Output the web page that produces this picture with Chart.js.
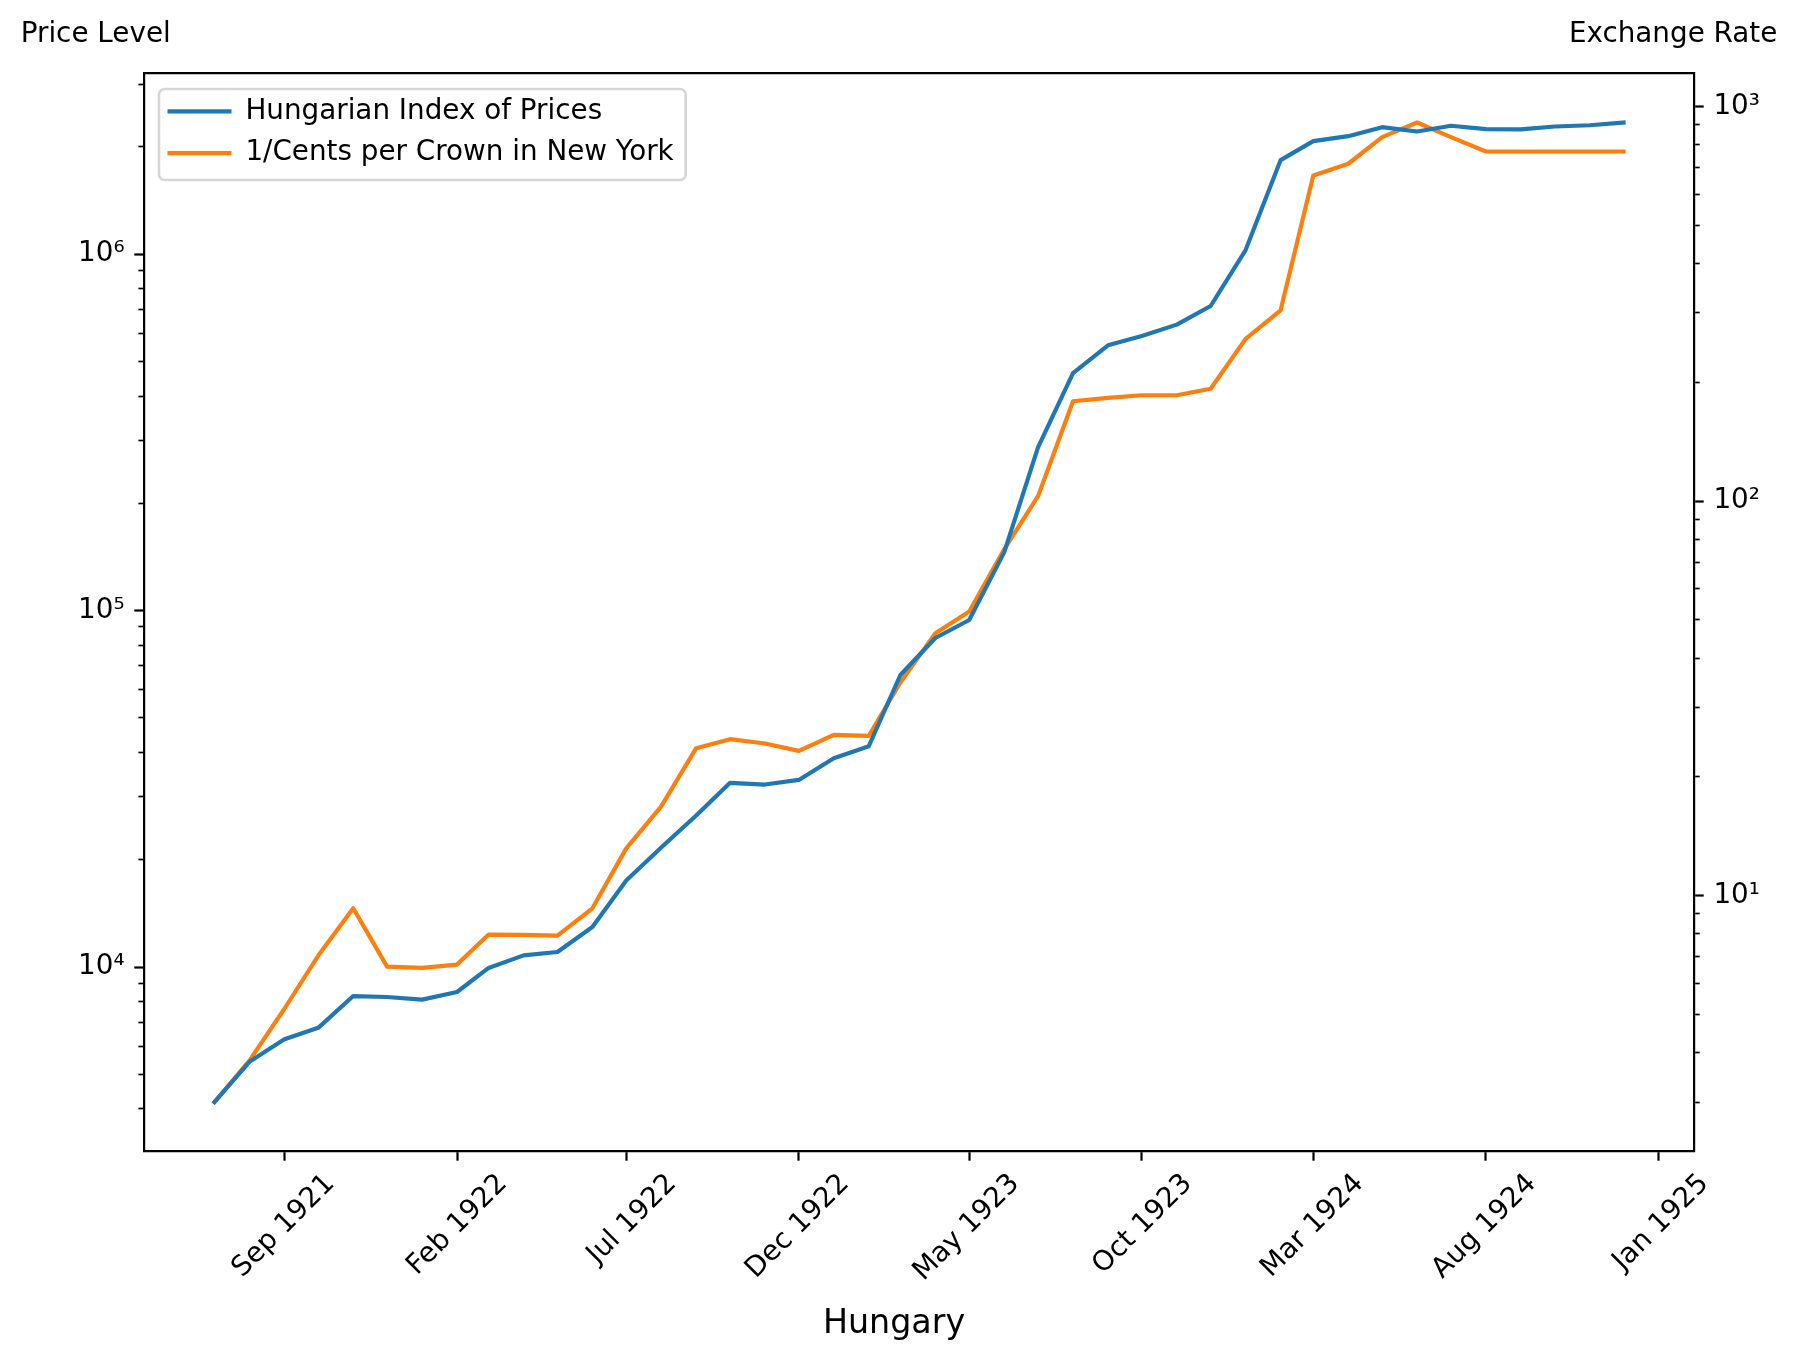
<!DOCTYPE html>
<html>
<head>
<meta charset="utf-8">
<script src="https://cdn.jsdelivr.net/npm/chart.js@4.4.1/dist/chart.umd.min.js"></script>
<style>
html, body { margin: 0; padding: 0; background: #ffffff; }
#wrap { width: 1798px; height: 1361px; position: relative; }
</style>
</head>
<body>
<div id="wrap"><canvas id="chart"></canvas></div>
<script>
// ---------------- data ----------------
const months = [
  '1921-07','1921-08','1921-09','1921-10','1921-11','1921-12',
  '1922-01','1922-02','1922-03','1922-04','1922-05','1922-06',
  '1922-07','1922-08','1922-09','1922-10','1922-11','1922-12',
  '1923-01','1923-02','1923-03','1923-04','1923-05','1923-06',
  '1923-07','1923-08','1923-09','1923-10','1923-11','1923-12',
  '1924-01','1924-02','1924-03','1924-04','1924-05','1924-06',
  '1924-07','1924-08','1924-09','1924-10','1924-11','1924-12'
];
const priceIndex = [
  4180, 5420, 6270, 6750, 8290, 8240,
  8100, 8510, 9940, 10780, 11020, 12950,
  17490, 21640, 26610, 32870, 32510, 33500,
  38540, 41650, 65980, 83800, 94120, 145700,
  287000, 463700, 555400, 589800, 634700, 715800,
  1027500, 1837000, 2077000, 2145000, 2273000, 2211000,
  2294000, 2244000, 2240000, 2283000, 2302000, 2343000
];
const exchangeRate = [
  3.00, 3.82, 5.17, 7.05, 9.29, 6.61,
  6.56, 6.69, 7.97, 7.96, 7.92, 9.29,
  13.18, 16.84, 23.65, 24.93, 24.31, 23.28,
  25.56, 25.41, 34.70, 46.26, 52.5, 75.45,
  102.9, 179.1, 182.7, 185.5, 185.5, 192.6,
  257.7, 304.5, 668.8, 716, 836.7, 911,
  836.7, 769, 769, 769, 769, 769
];
const seriesLabels = ['Hungarian Index of Prices', '1/Cents per Crown in New York'];
const xTickMonths = ['1921-09','1922-02','1922-07','1922-12','1923-05','1923-10','1924-03','1924-08','1925-01'];
const xTickLabels = ['Sep 1921','Feb 1922','Jul 1922','Dec 1922','May 1923','Oct 1923','Mar 1924','Aug 1924','Jan 1925'];
const leftMajorTicks = [1e4, 1e5, 1e6];
const leftMajorLabels = ['10\u2074', '10\u2075', '10\u2076'];
const rightMajorTicks = [1e1, 1e2, 1e3];
const rightMajorLabels = ['10\u00B9', '10\u00B2', '10\u00B3'];
const leftAxisLabel = 'Price Level';
const rightAxisLabel = 'Exchange Rate';
const xAxisLabel = 'Hungary';

// ---------------- helpers ----------------
const toDay = s => { const [y, m] = s.split('-').map(Number); return Date.UTC(y, m - 1, 1) / 864e5; };
const FONT = 'DejaVu Sans';
const FS = 27.8;          // 10 pt at 200 dpi
const MAJOR_LEN = 9.7, MINOR_LEN = 5.6, MAJOR_W = 2.2, MINOR_W = 1.67;
const LEG_PAD = 14, LEG_HANDLE = 64;

function logLimits(values) {
  const lo = Math.log10(Math.min(...values)), hi = Math.log10(Math.max(...values));
  const m = (hi - lo) * 0.05;
  return [Math.pow(10, lo - m), Math.pow(10, hi + m)];
}
function logTicks(min, max) {
  const out = [];
  for (let e = Math.floor(Math.log10(min)); e <= Math.ceil(Math.log10(max)); e++) {
    for (let k = 1; k <= 9; k++) {
      const v = k * Math.pow(10, e);
      if (v >= min && v <= max) out.push({ value: v, major: k === 1 });
    }
  }
  return out;
}
const isMajorVal = v => Math.abs(Math.log10(v) - Math.round(Math.log10(v))) < 1e-9;

const days = months.map(toDay);
const span = days[days.length - 1] - days[0];
const xMin = days[0] - 0.05 * span, xMax = days[days.length - 1] + 0.05 * span;
const [yLMin, yLMax] = logLimits(priceIndex);
const [yRMin, yRMax] = logLimits(exchangeRate);

function yAxis(position, min, max, majors, labels, width) {
  const left = position === 'left';
  return {
    type: 'logarithmic', position, min, max,
    afterBuildTicks: s => { s.ticks = logTicks(s.min, s.max); },
    afterFit: s => { s.width = width; },
    ticks: {
      autoSkip: false, padding: MAJOR_LEN, color: '#000',
      font: { family: FONT, size: FS },
      callback: (v) => { const i = majors.indexOf(v); return i >= 0 ? labels[i] : ''; }
    },
    grid: {
      drawOnChartArea: false, drawTicks: true, tickLength: MAJOR_LEN, tickColor: '#000',
      tickWidth: c => isMajorVal(c.tick.value) ? MAJOR_W : MINOR_W,
      tickBorderDash: c => isMajorVal(c.tick.value) ? [] : (left ? [MINOR_LEN, 300] : [MINOR_LEN - MAJOR_W / 2, 300]),
      tickBorderDashOffset: c => isMajorVal(c.tick.value) ? 0 : (left ? -(MAJOR_LEN - MINOR_LEN) : 0)
    },
    border: { display: true, color: '#000', width: MAJOR_W }
  };
}

const decor = {
  id: 'decor',
  afterLayout(chart) {
    const ca = chart.chartArea, lg = chart.legend;
    lg.left = ca.left + 9.5; lg.top = ca.top + 10;
    lg.right = ca.right; lg.bottom = ca.bottom;
  },
  beforeDraw(chart) {
    const ctx = chart.ctx, lg = chart.legend;
    ctx.save();
    ctx.font = FS + 'px "' + FONT + '"';
    const maxW = Math.max(...seriesLabels.map(t => ctx.measureText(t).width));
    const textX = lg.left + LEG_PAD + LEG_HANDLE + FS / 2;
    const x0 = chart.chartArea.left + 15, y0 = chart.chartArea.top + 15.5;
    const w = textX + maxW + 12 - x0, h = 91;
    ctx.beginPath();
    if (ctx.roundRect) ctx.roundRect(x0, y0, w, h, 5.6); else ctx.rect(x0, y0, w, h);
    ctx.fillStyle = 'rgba(255,255,255,0.8)';
    ctx.fill();
    ctx.lineWidth = 2.6;
    ctx.strokeStyle = '#d6d6d6';
    ctx.stroke();
    ctx.restore();
  },
  afterDraw(chart) {
    const ctx = chart.ctx;
    ctx.save();
    ctx.fillStyle = '#000';
    ctx.textBaseline = 'alphabetic';
    ctx.font = FS + 'px "' + FONT + '"';
    ctx.textAlign = 'left';
    ctx.fillText(leftAxisLabel, 20.7, 41.7);
    ctx.textAlign = 'right';
    ctx.fillText(rightAxisLabel, 1777.3, 41.7);
    ctx.font = '33.3px "' + FONT + '"';
    ctx.textAlign = 'center';
    ctx.fillText(xAxisLabel, 894, 1333.3);
    ctx.restore();
  }
};

const lineStyle = (color) => ({
  borderColor: color, backgroundColor: color,
  pointBorderColor: color, pointBackgroundColor: color, pointBorderWidth: 4.17,
  borderWidth: 4.17, pointRadius: 0, pointHoverRadius: 0, tension: 0, fill: false,
  borderJoinStyle: 'round', borderCapStyle: 'square'
});

new Chart(document.getElementById('chart'), {
  type: 'line',
  data: {
    datasets: [
      Object.assign({ label: seriesLabels[0], yAxisID: 'y', xAxisID: 'x',
        data: months.map((m, i) => ({ x: days[i], y: priceIndex[i] })) }, lineStyle('#1f77b4')),
      Object.assign({ label: seriesLabels[1], yAxisID: 'y1', xAxisID: 'x',
        data: months.map((m, i) => ({ x: days[i], y: exchangeRate[i] })) }, lineStyle('#ff7f0e'))
    ]
  },
  options: {
    responsive: true, maintainAspectRatio: false, animation: false, devicePixelRatio: 1,
    layout: { padding: { top: 73.5, left: 0, right: 0, bottom: 0 } },
    scales: {
      x: {
        type: 'linear', position: 'bottom', min: xMin, max: xMax, bounds: 'data',
        afterBuildTicks: s => { s.ticks = xTickMonths.map(m => ({ value: toDay(m) })); },
        afterFit: s => { s.height = 210; },
        ticks: {
          autoSkip: false, minRotation: 45, maxRotation: 45, padding: 7, labelOffset: 46,
          color: '#000', font: { family: FONT, size: FS },
          callback: (v, i) => xTickLabels[i]
        },
        grid: { drawOnChartArea: false, drawTicks: true, tickLength: MAJOR_LEN, tickWidth: MAJOR_W, tickColor: '#000' },
        border: { display: true, color: '#000', width: MAJOR_W }
      },
      xTop: {
        type: 'linear', position: 'top', min: xMin, max: xMax, display: true,
        afterFit: s => { s.height = 0; },
        ticks: { display: false },
        grid: { drawOnChartArea: false, drawTicks: false },
        border: { display: true, color: '#000', width: MAJOR_W }
      },
      y: yAxis('left', yLMin, yLMax, leftMajorTicks, leftMajorLabels, 144),
      y1: yAxis('right', yRMin, yRMax, rightMajorTicks, rightMajorLabels, 104)
    },
    plugins: {
      legend: {
        position: 'chartArea', align: 'start',
        labels: {
          usePointStyle: true, pointStyle: 'line', pointStyleWidth: LEG_HANDLE, padding: LEG_PAD,
          color: '#000', font: { family: FONT, size: FS }
        }
      },
      tooltip: { enabled: false }
    }
  },
  plugins: [decor]
});
</script>
</body>
</html>
